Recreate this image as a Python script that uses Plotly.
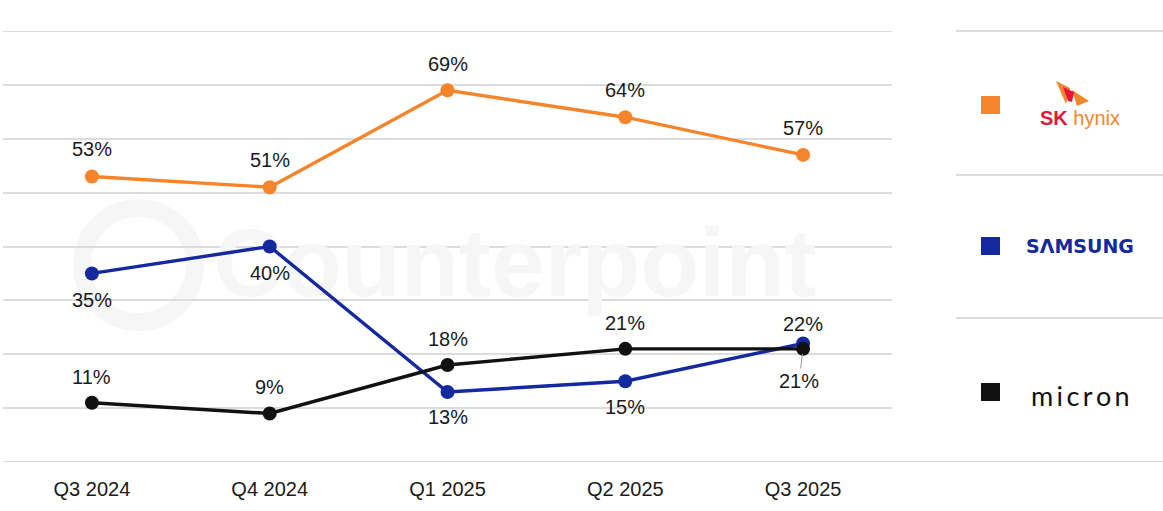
import plotly.graph_objects as go

quarters = ["Q3 2024", "Q4 2024", "Q1 2025", "Q2 2025", "Q3 2025"]
sk_hynix = [53, 51, 69, 64, 57]
samsung = [35, 40, 13, 15, 22]
micron = [11, 9, 18, 21, 21]

# label offsets (pixels, + = above)
sk_shift = [27, 27, 26, 27, 27]
samsung_shift = [-27, -26, -25, -26, 19]
micron_shift = [26, 27, 26, 26, -30]

ORANGE = "#F5842A"
BLUE = "#1428A0"
BLACK = "#111111"
FONT = "Liberation Sans, Arial, sans-serif"
GRID = "#dcdcdc"

W, H = 1163, 511
L, R, T, B = 3, 892, 31, 462

xi = list(range(len(quarters)))


def px(x):
    return (x - L) / (R - L)


def py(y):
    return (B - y) / (B - T)


fig = go.Figure()
# faint watermark text (drawn first, so it stays behind the lines)
fig.add_trace(go.Scatter(
    x=[2.38], y=[35.3], mode="text", text=["<b>Counterpoint</b>"],
    textfont=dict(family=FONT, size=96, color="#f6f6f6"),
    hoverinfo="skip", showlegend=False, cliponaxis=False))

for name, vals, col in [("SK hynix", sk_hynix, ORANGE), ("Samsung", samsung, BLUE), ("Micron", micron, BLACK)]:
    fig.add_trace(go.Scatter(
        x=xi, y=vals, mode="lines+markers", name=name,
        line=dict(color=col, width=3.4),
        marker=dict(color=col, size=14),
        showlegend=False, cliponaxis=False,
    ))

annotations = []
for vals, shifts in [(sk_hynix, sk_shift), (samsung, samsung_shift), (micron, micron_shift)]:
    for i, v, s in zip(xi, vals, shifts):
        if s == -30:
            annotations.append(dict(
                x=i, y=v, text=f"{v}%", showarrow=True, arrowhead=0, arrowwidth=1,
                arrowcolor="#9a9a9a", ax=-4, ay=32, standoff=5,
                font=dict(family=FONT, size=20, color="#1a1a1a")))
        else:
            annotations.append(dict(
                x=i, y=v, text=f"{v}%", showarrow=False, yshift=s,
                font=dict(family=FONT, size=20, color="#1a1a1a")))

# legend logos
annotations.append(dict(
    xref="paper", yref="paper", x=px(1080), y=py(118), xanchor="center", yanchor="middle",
    text="<b><span style='color:#E2183A'>SK</span></b> <span style='color:#F5842A'>hynix</span>",
    showarrow=False, font=dict(family=FONT, size=20)))
annotations.append(dict(
    xref="paper", yref="paper", x=px(1080), y=py(246), xanchor="center", yanchor="middle",
    text="<b>SΛMSUNG</b>", showarrow=False,
    font=dict(family="DejaVu Sans, sans-serif", size=19, color=BLUE)))
annotations.append(dict(
    xref="paper", yref="paper", x=px(1080), y=py(395), xanchor="center", yanchor="middle",
    text="m\u2009i\u2009c\u2009r\u2009o\u2009n", showarrow=False,
    font=dict(family="Lato, sans-serif", size=27, color=BLACK)))

shapes = []
# watermark ring
shapes.append(dict(type="circle", xref="paper", yref="paper", layer="below",
                   x0=px(82), x1=px(195), y0=py(322), y1=py(208),
                   line=dict(color="#f6f6f6", width=18)))
# top and bottom grid lines (edges of value range)
shapes.append(dict(type="line", xref="paper", yref="y", layer="below",
                   x0=0, x1=1, y0=80, y1=80, line=dict(color=GRID, width=1.8)))
shapes.append(dict(type="line", xref="paper", yref="y", layer="below",
                   x0=0, x1=px(1163), y0=0, y1=0, line=dict(color=GRID, width=2)))
# legend separator lines
for yy in [31, 175, 318]:
    shapes.append(dict(type="line", xref="paper", yref="paper",
                       x0=px(956), x1=px(1163), y0=py(yy), y1=py(yy),
                       line=dict(color="#cfcfcf", width=1.5)))
# legend squares
for cy, col in [(105, ORANGE), (246, BLUE), (392, BLACK)]:
    shapes.append(dict(type="rect", xref="paper", yref="paper",
                       x0=px(981), x1=px(1000), y0=py(cy + 9), y1=py(cy - 9),
                       fillcolor=col, line=dict(width=0)))


# SK hynix butterfly (approximate)
def path(pts):
    return "M " + " L ".join(f"{px(a)},{py(b)}" for a, b in pts) + " Z"


shapes.append(dict(type="path", xref="paper", yref="paper",
                   path=path([(1056, 81), (1070, 88), (1066, 104)]),
                   fillcolor=ORANGE, line=dict(width=0)))
shapes.append(dict(type="path", xref="paper", yref="paper",
                   path=path([(1072, 90), (1089, 101), (1077, 106)]),
                   fillcolor=ORANGE, line=dict(width=0)))
shapes.append(dict(type="path", xref="paper", yref="paper",
                   path=path([(1063, 87), (1074, 92), (1072, 102), (1068, 101)]),
                   fillcolor="#E2183A", line=dict(width=0)))

fig.update_layout(
    width=W, height=H,
    margin=dict(l=L, r=W - R, t=T, b=H - B),
    plot_bgcolor="white", paper_bgcolor="white",
    annotations=annotations, shapes=shapes,
    font=dict(family=FONT, size=20, color="#1a1a1a"),
    xaxis=dict(range=[-0.5, 4.5], tickvals=xi, ticktext=quarters,
               showgrid=False, zeroline=False,
               showline=False, ticks="", ticklabelstandoff=13,
               tickfont=dict(family=FONT, size=20, color="#1a1a1a")),
    yaxis=dict(range=[0, 80], dtick=10, showgrid=True, gridcolor=GRID, gridwidth=1.8,
               showticklabels=False, zeroline=False, showline=False, ticks=""),
)

fig.write_html("out.html", config={"displayModeBar": False},
               post_script="document.body.style.margin='0px';")
